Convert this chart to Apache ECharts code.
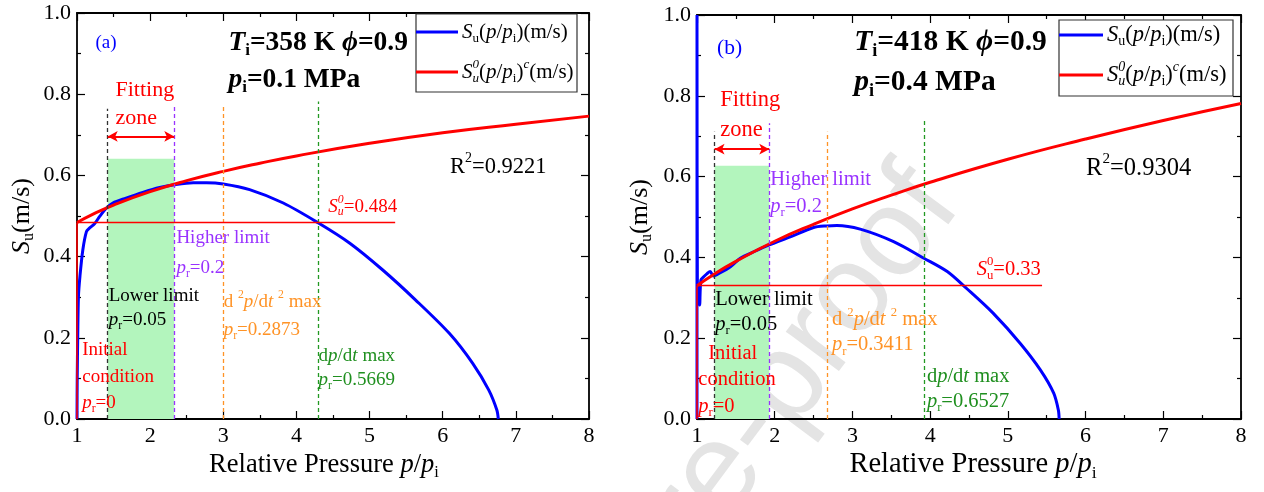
<!DOCTYPE html>
<html><head><meta charset="utf-8">
<script src="https://cdn.jsdelivr.net/npm/echarts@6/dist/echarts.min.js"></script>
<style>html,body{margin:0;padding:0;background:#fff}#c{width:1264px;height:492px}</style>
</head><body><div id="c"></div>
<script>
// ---------------- DATA ----------------
// Panel (a): Ti=358 K, pi=0.1 MPa
const aBlueX = [1.0,1.003,1.01,1.02,1.04,1.08,1.13,1.17,1.24,1.31,1.40,1.49,1.67,1.90,2.13,2.33,2.59,2.77,3.00,3.36,3.82,4.29,4.73,5.18,5.63,6.09,6.41,6.63,6.74,6.76];
const aBlueY = [0.0,0.10,0.203,0.302,0.351,0.417,0.462,0.470,0.481,0.499,0.519,0.532,0.544,0.558,0.570,0.577,0.582,0.582,0.579,0.565,0.532,0.484,0.433,0.367,0.293,0.211,0.137,0.071,0.022,0.0];
const aRedX  = [1,1.2,1.5,2,2.5,3,3.5,4,5,6,7,8];
const aRedY  = [0.484,0.503,0.527,0.560,0.587,0.610,0.630,0.648,0.679,0.705,0.726,0.746];
// markers: S0 level & its end, lower limit, higher limit, d2p/dt2 max, dp/dt max
const aS0 = [0.484, 5.35];
const aLimitsX = [1.42, 2.33, 3.00, 4.295];
const aLimitsTop = [0.764, 0.769, 0.770, 0.782];
const aZoneTop = 0.641;
const aArrowY = 0.696;

// Panel (b): Ti=418 K, pi=0.4 MPa
const bBlueX = [1.0,1.0,1.005,1.02,1.034,1.05,1.086,1.13,1.17,1.21,1.30,1.43,1.557,1.73,1.93,2.2,2.5,2.67,2.80,3.10,3.53,3.92,4.22,4.47,4.81,5.16,5.42,5.59,5.65,5.66];
const bBlueY = [0.0,1.0,0.33,0.32,0.282,0.344,0.352,0.36,0.365,0.354,0.362,0.377,0.398,0.414,0.431,0.451,0.474,0.478,0.479,0.470,0.439,0.398,0.365,0.323,0.262,0.187,0.121,0.064,0.022,0.0];
const bRedX  = [1,1.2,1.5,2,2.5,3,3.5,4,5,6,7,8];
const bRedY  = [0.330,0.356,0.390,0.440,0.482,0.520,0.554,0.586,0.643,0.693,0.739,0.781];
const bS0 = [0.33, 5.44];
const bLimitsX = [1.226, 1.93, 2.68, 3.92];
const bLimitsTop = [0.711, 0.732, 0.711, 0.740];
const bZoneTop = 0.627;
const bArrowY = 0.668;

const xTickMin = 1, xTickMax = 8, xTickStep = 1;
const yTickMin = 0, yTickMax = 1, yTickStep = 0.2;

// ---------------- STYLE ----------------
const FAM = 'Liberation Serif, Times New Roman, serif';
const BLUE='#0000ff', RED='#ff0000', PURPLE='#9933ff', ORANGE='#ff9326', GREEN='#1f8f1f', BLACK='#000';
const LIMIT_COLORS = ['#333333', PURPLE, ORANGE, '#229922'];

const chart = echarts.init(document.getElementById('c'), null, {renderer:'canvas'});
function zip(xs, ys){ return xs.map((x,i)=>[x, ys[i]]); }

function xAx(gi, pos){
  const main = pos==='bottom';
  return {gridIndex:gi, type:'value', min:xTickMin, max:xTickMax, interval:xTickStep, position:pos,
    axisLine:{show:true,onZero:false,lineStyle:{color:BLACK,width:1.8}},
    axisTick:{show:true,inside:true,length:8,lineStyle:{color:BLACK,width:1.2}},
    minorTick:{show:true,splitNumber:2,length:4,lineStyle:{color:BLACK,width:1.2}},
    splitLine:{show:false}, minorSplitLine:{show:false},
    axisLabel:{show:main, margin:6, fontSize:22, fontFamily:FAM, color:BLACK}};
}
function yAx(gi, pos, gap){
  const main = pos==='left';
  const o = {gridIndex:gi, type:'value', min:yTickMin, max:yTickMax, interval:yTickStep, position:pos,
    axisLine:{show:true,onZero:false,lineStyle:{color:BLACK,width:1.8}},
    axisTick:{show:true,inside:true,length:8,lineStyle:{color:BLACK,width:1.2}},
    minorTick:{show:true,splitNumber:2,length:4,lineStyle:{color:BLACK,width:1.2}},
    splitLine:{show:false}, minorSplitLine:{show:false},
    axisLabel:{show:main, margin:6, fontSize:22, fontFamily:FAM, color:BLACK, formatter:v=>v.toFixed(1)}};
  if (main){
    o.name = '{i|S}{s|u}{n|(m/s)}';
    o.nameLocation='middle'; o.nameRotate=90; o.nameGap=gap;
    o.nameTextStyle={color:BLACK, fontFamily:FAM, fontSize:26, rich:{
      i:{fontStyle:'italic',fontSize:26,fontFamily:FAM,lineHeight:30,color:BLACK},
      s:{fontSize:16,fontFamily:FAM,verticalAlign:'bottom',lineHeight:16,color:BLACK},
      n:{fontSize:26,fontFamily:FAM,lineHeight:30,color:BLACK}}};
  }
  return o;
}
function segLine(x1,y1,x2,y2,ls){ return [{coord:[x1,y1], lineStyle:ls},{coord:[x2,y2]}]; }

function panelSeries(gi, blueX, blueY, redX, redY, s0, limX, limTop, zoneTop, arrowY){
  const ax = {xAxisIndex:gi*2, yAxisIndex:gi*2};
  return [
    Object.assign({type:'line', name:'zone'+gi, data:[], z:1, silent:true,
      markArea:{silent:true, itemStyle:{color:'#b3f5bd'}, data:[[{coord:[limX[0],0]},{coord:[limX[1],zoneTop]}]]}}, ax),
    Object.assign({type:'line', name:'limits'+gi, data:[], z:2, silent:true,
      markLine:{silent:true, symbol:['none','none'], label:{show:false}, animation:false,
        data: limX.map((x,k)=>segLine(x,0,x,limTop[k],{color:LIMIT_COLORS[k],width:1.3,type:[4,3]}))}}, ax),
    Object.assign({type:'line', name:'Su'+gi, data:zip(blueX,blueY), z:3, showSymbol:false, smooth:0.3,
      lineStyle:{color:BLUE,width:3}, itemStyle:{color:BLUE}}, ax),
    Object.assign({type:'line', name:'S0'+gi, data:zip(redX,redY), z:4, showSymbol:false, smooth:true,
      lineStyle:{color:RED,width:3}, itemStyle:{color:RED},
      markLine:{silent:true, symbol:['none','none'], label:{show:false}, animation:false,
        data:[segLine(1,s0[0],s0[1],s0[0],{color:RED,width:1.4,type:'solid'}),
              segLine(1,0,1,s0[0],{color:RED,width:1.6,type:'solid'})]}}, ax),
    Object.assign({type:'line', name:'arrow'+gi, data:[], z:5, silent:true,
      markLine:{silent:true, symbol:['arrow','arrow'], symbolSize:[8,10], label:{show:false}, animation:false,
        lineStyle:{color:RED,width:2,type:'solid'},
        data:[[{coord:[limX[0],arrowY]},{coord:[limX[1],arrowY]}]]}}, ax)
  ];
}

const option = {
  animation:false, backgroundColor:'#fff',
  grid:[{left:77, right:675, top:13, bottom:73},{left:697, right:23, top:15, bottom:73}],
  xAxis:[xAx(0,'bottom'), xAx(0,'top'), xAx(1,'bottom'), xAx(1,'top')],
  yAxis:[yAx(0,'left',40), yAx(0,'right'), yAx(1,'left',42), yAx(1,'right')],
  series:[].concat(
    panelSeries(0, aBlueX, aBlueY, aRedX, aRedY, aS0, aLimitsX, aLimitsTop, aZoneTop, aArrowY),
    panelSeries(1, bBlueX, bBlueY, bRedX, bRedY, bS0, bLimitsX, bLimitsTop, bZoneTop, bArrowY))
};
chart.setOption(option);

// ---------------- rich text helper (italic *..*, _sub, ^sup) ----------------
const mctx = document.createElement('canvas').getContext('2d');
function fontStr(sz,it,b){ return (it?'italic ':'normal ')+(b?'bold ':'normal ')+sz+'px '+FAM; }
function measure(t,f){ mctx.font=f; return mctx.measureText(t).width; }
function parse(s){
  const segs=[]; let it=false, buf='';
  const flush=()=>{ if(buf){ segs.push({t:buf,it,pos:0}); buf=''; } };
  for(let i=0;i<s.length;i++){
    const c=s[i];
    if(c==='*'){ flush(); it=!it; }
    else if(c==='_'||c==='^'){
      flush(); let g;
      if(s[i+1]==='{'){ const j=s.indexOf('}',i+2); g=s.slice(i+2,j); i=j; } else { g=s[i+1]; i++; }
      segs.push({t:g,it,pos:c==='_'?1:-1});
    } else buf+=c;
  }
  flush(); return segs;
}
function richEls(str, x, y, size, color, opts){
  opts = opts||{};
  const segs=parse(str), bold=!!opts.bold;
  let cx=0, pend=null; const items=[];
  segs.forEach(sg=>{
    const sz = sg.pos ? size*0.62 : size;
    const f = fontStr(sz, sg.it, bold), w = measure(sg.t, f);
    const dy = sg.pos===1 ? size*0.30 : (sg.pos===-1 ? -size*0.36 : 0);
    if (pend && sg.pos && sg.pos!==pend.pos){
      items.push({t:sg.t,sz,it:sg.it,x:pend.x,dy});
      cx = pend.x + Math.max(pend.w, w); pend=null; return;
    }
    pend=null;
    items.push({t:sg.t,sz,it:sg.it,x:cx,dy});
    if (sg.pos) pend={x:cx,w,pos:sg.pos};
    cx+=w;
  });
  const ox = opts.align==='center' ? x-cx/2 : x;
  return items.map(it=>({type:'text', silent:true, z:50, x:ox+it.x, y:y+it.dy,
    style:{text:it.t, fontSize:it.sz, fontFamily:FAM, fontStyle:it.it?'italic':'normal',
      fontWeight:bold?'bold':'normal', fill:color, align:'left', verticalAlign:'middle'}}));
}

// ---------------- annotations (text, x, y in data units, size, colour, bold) ----------------
const annA = [
  ['(a)', 1.253, 0.927, 19, BLUE],
  ['*T*_i=358 K *ϕ*=0.9', 3.07, 0.927, 27.5, BLACK, true],
  ['*p*_i=0.1 MPa', 3.07, 0.836, 27.5, BLACK, true],
  ['Fitting', 1.526, 0.811, 22, RED],
  ['zone', 1.526, 0.742, 22, RED],
  ['R^2=0.9221', 6.10, 0.621, 22.5, BLACK],
  ['*S_u^0*=0.484', 4.436, 0.523, 19, RED],
  ['Higher limit', 2.359, 0.446, 19, PURPLE],
  ['*p*_r=0.2', 2.359, 0.372, 19, PURPLE],
  ['Lower limit', 1.434, 0.304, 19, BLACK],
  ['*p*_r=0.05', 1.434, 0.244, 19, BLACK],
  ['Initial', 1.071, 0.170, 19, RED],
  ['condition', 1.071, 0.104, 19, RED],
  ['*p*_r=0', 1.071, 0.039, 19, RED],
  ['d ^2*p*/d*t* ^2 max', 3.005, 0.289, 19, ORANGE],
  ['*p*_r=0.2873', 3.005, 0.219, 19, ORANGE],
  ['d*p*/d*t* max', 4.303, 0.154, 19, GREEN],
  ['*p*_r=0.5669', 4.303, 0.096, 19, GREEN]
];
const annB = [
  ['(b)', 1.257, 0.918, 21.5, BLUE],
  ['*T*_i=418 K *ϕ*=0.9', 3.023, 0.933, 29.5, BLACK, true],
  ['*p*_i=0.4 MPa', 3.023, 0.832, 29.5, BLACK, true],
  ['Fitting', 1.30, 0.790, 22.5, RED],
  ['zone', 1.30, 0.715, 22.5, RED],
  ['Higher limit', 1.943, 0.592, 20.5, PURPLE],
  ['*p*_r=0.2', 1.943, 0.525, 20.5, PURPLE],
  ['R^2=0.9304', 6.007, 0.621, 24.5, BLACK],
  ['*S*_u^0=0.33', 4.60, 0.371, 20.5, RED],
  ['Lower limit', 1.235, 0.295, 20.5, BLACK],
  ['*p*_r=0.05', 1.235, 0.233, 20.5, BLACK],
  ['Initial', 1.145, 0.163, 20.5, RED],
  ['condition', 1.017, 0.097, 20.5, RED],
  ['*p*_r=0', 1.017, 0.030, 20.5, RED],
  ['d ^2*p*/d*t* ^2 max', 2.736, 0.245, 20.5, ORANGE],
  ['*p*_r=0.3411', 2.736, 0.183, 20.5, ORANGE],
  ['d*p*/d*t* max', 3.958, 0.105, 20.5, GREEN],
  ['*p*_r=0.6527', 3.958, 0.043, 20.5, GREEN]
];

const els = [];
// watermark
els.push({type:'text', silent:true, z:-1, x:985, y:222, rotation:0.93,
  style:{text:'Journal Pre-proof', fontSize:125, fontFamily:'Liberation Sans, Arial, sans-serif',
    fill:'#e4e4e4', align:'right', verticalAlign:'bottom'}});

function addAnn(gi, list){
  list.forEach(a=>{
    const p = chart.convertToPixel({xAxisIndex:gi*2, yAxisIndex:gi*2}, [a[1], a[2]]);
    els.push(...richEls(a[0], p[0], p[1], a[3], a[4], {bold:!!a[5]}));
  });
}
addAnn(0, annA); addAnn(1, annB);

// x-axis titles
els.push(...richEls('Relative Pressure *p*/*p*_i', 324, 465, 26.5, BLACK, {align:'center'}));
els.push(...richEls('Relative Pressure *p*/*p*_i', 973, 465, 28.5, BLACK, {align:'center'}));

// legends
function legend(x0, y0, w, h, lineW, rowY, size){
  els.push({type:'rect', silent:true, z:40, shape:{x:x0, y:y0, width:w, height:h},
    style:{fill:'#fff', stroke:'#333', lineWidth:1.2}});
  els.push({type:'line', silent:true, z:41, shape:{x1:x0, y1:rowY[0], x2:x0+lineW, y2:rowY[0]}, style:{stroke:BLUE, lineWidth:3}});
  els.push({type:'line', silent:true, z:41, shape:{x1:x0, y1:rowY[1], x2:x0+lineW, y2:rowY[1]}, style:{stroke:RED, lineWidth:3}});
  els.push(...richEls('*S*_u(*p*/*p*_i)(m/s)', x0+lineW+4, rowY[0], size, BLACK));
  els.push(...richEls('*S_u^0*(*p*/*p*_i)*^c*(m/s)', x0+lineW+4, rowY[1], size, BLACK));
}
legend(416, 14, 161, 78, 42, [32, 72], 21);
legend(1059, 20, 174, 76, 44, [35, 75], 22.5);

chart.setOption({graphic:{elements:els}});
</script></body></html>
